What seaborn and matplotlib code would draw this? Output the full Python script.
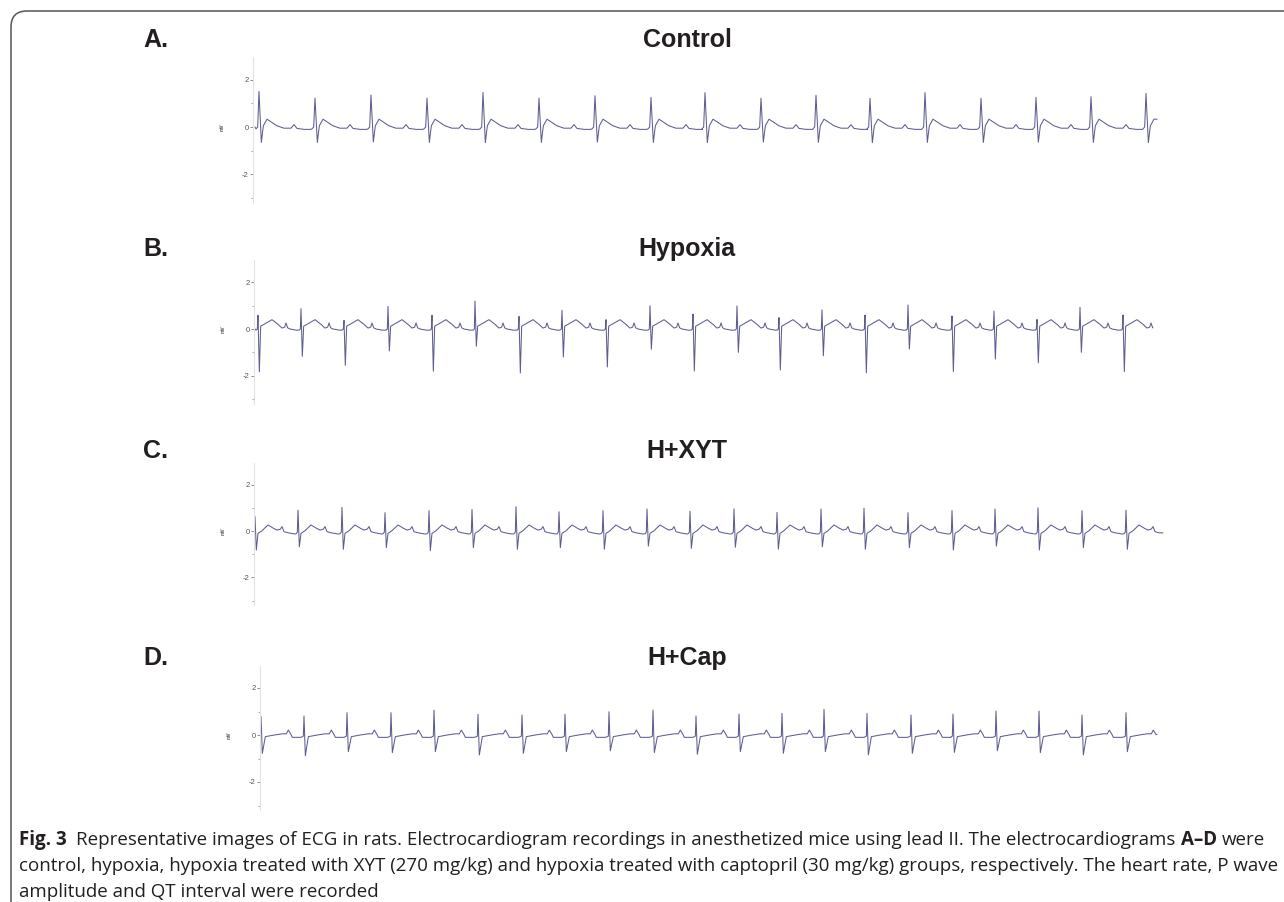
import numpy as np
import seaborn as sns
import matplotlib.pyplot as plt
from matplotlib.path import Path
from matplotlib.patches import PathPatch
from matplotlib import font_manager

# ---- data (time in ms, amplitude in mV) ----
ctrl_r_t = [18, 186, 354, 522, 690, 858, 1026, 1194, 1356, 1524, 1689, 1851,
            2016, 2184, 2349, 2514, 2679]
ctrl_r_amp = [1.50, 1.22, 1.35, 1.22, 1.46, 1.22, 1.32, 1.25, 1.45, 1.21, 1.34,
              1.21, 1.45, 1.21, 1.25, 1.28, 1.42]
ctrl_s_amp = [-0.65, -0.65, -0.63, -0.65, -0.66, -0.65, -0.64, -0.65, -0.66,
              -0.64, -0.65, -0.66, -0.65, -0.65, -0.64, -0.65, -0.66]
ctrl_tpl_t = [-9, -4, 0, 7, 13, 24, 36, 54, 75, 96, 105, 114, 135, 155]
ctrl_tpl_v = [-0.08, 0.0, "R", "S", 0.05, 0.33, 0.22, 0.05, -0.05, -0.05, 0.10,
              -0.06, -0.10, -0.10]
ctrl_span = (6, 2712)

hyp_r_t = [12, 141, 270, 402, 534, 663, 795, 924, 1056, 1188, 1317, 1449, 1575,
           1704, 1833, 1962, 2094, 2220, 2349, 2478, 2607]
hyp_r_amp = [0.59, 0.87, 0.37, 0.97, 0.59, 1.20, 0.54, 0.80, 0.40, 1.00, 0.64,
             0.99, 0.49, 0.82, 0.60, 1.03, 0.56, 0.77, 0.41, 0.93, 0.60]
hyp_s_amp = [-1.84, -1.17, -1.56, -0.94, -1.81, -0.74, -1.89, -1.20, -1.63,
             -0.87, -1.80, -1.00, -1.76, -1.15, -1.88, -0.86, -1.83, -1.29,
             -1.45, -1.00, -1.83]
hyp_tpl_t = [-6, -2, 0, 4, 8, 18, 42, 60, 72, 80, 84, 89, 96, 115]
hyp_tpl_v = [-0.05, 0.0, "R", "S", 0.12, 0.20, 0.40, 0.20, 0.04, 0.08, 0.26,
             0.05, 0.0, -0.05]
hyp_span = (3, 2697)

xyt_r_t = [3, 132, 264, 393, 525, 654, 786, 915, 1047, 1179, 1308, 1440, 1569,
           1701, 1830, 1962, 2094, 2223, 2352, 2484, 2616]
xyt_r_amp = [0.62, 0.90, 1.02, 0.79, 0.88, 0.93, 1.05, 0.83, 0.88, 0.95, 0.85,
             0.95, 0.80, 0.95, 0.98, 0.79, 0.88, 0.95, 1.00, 0.88, 0.90]
xyt_s_amp = [-0.82, -0.68, -0.79, -0.72, -0.85, -0.72, -0.79, -0.72, -0.79,
             -0.65, -0.75, -0.70, -0.78, -0.68, -0.79, -0.72, -0.82, -0.65,
             -0.82, -0.72, -0.79]
xyt_tpl_t = [-6, -2, 0, 4, 9, 20, 39, 55, 66, 76, 81, 87, 100, 120]
xyt_tpl_v = [-0.12, -0.05, "R", "S", -0.10, 0.0, 0.26, 0.12, 0.04, 0.08, 0.19,
             -0.03, -0.08, -0.13]
xyt_span = (0, 2727)

cap_r_t = [3, 132, 261, 393, 522, 654, 786, 915, 1047, 1179, 1308, 1437, 1566,
           1692, 1821, 1953, 2079, 2208, 2337, 2466, 2598]
cap_r_amp = [0.78, 0.81, 0.95, 0.95, 1.06, 0.88, 0.85, 0.88, 0.99, 1.06, 0.81,
             0.89, 0.92, 1.09, 0.92, 0.85, 0.89, 1.02, 1.02, 0.85, 0.95]
cap_s_amp = [-0.78, -0.88, -0.71, -0.75, -0.71, -0.85, -0.78, -0.71, -0.67,
             -0.75, -0.82, -0.71, -0.78, -0.71, -0.85, -0.78, -0.74, -0.67,
             -0.75, -0.85, -0.71]
cap_tpl_t = [-6, -2, 0, 4, 13, 40, 63, 76, 82, 90, 94, 120]
cap_tpl_v = [-0.08, -0.05, "R", "S", -0.07, 0.0, 0.05, 0.05, 0.21, 0.02, -0.10,
             -0.10]
cap_span = (0, 2691)

titles = ["Control", "Hypoxia", "H+XYT", "H+Cap"]
tags = ["A", "B", "C", "D"]

caption_l1 = ("Representative images of ECG in rats. Electrocardiogram recordings in "
              "anesthetized mice using lead II. The electrocardiograms")
caption_l2 = ("control, hypoxia, hypoxia treated with XYT (270 mg/kg) and hypoxia treated "
              "with captopril (30 mg/kg) groups, respectively. The heart rate, P wave")
caption_l3 = "amplitude and QT interval were recorded"


def build_trace(r_t, r_amp, s_amp, tpl_t, tpl_v, span):
    xs, ys = [span[0]], [0.0]
    for t, r, s in zip(r_t, r_amp, s_amp):
        for dt, v in zip(tpl_t, tpl_v):
            val = r if v == "R" else s if v == "S" else v
            if span[0] < t + dt < span[1]:
                xs.append(t + dt)
                ys.append(val)
    xs.append(span[1])
    ys.append(ys[-1])
    return np.array(xs, float), np.array(ys, float)


sns.set_style("white")
plt.rcParams["font.family"] = ["Liberation Sans", "DejaVu Sans"]
plt.rcParams["axes.unicode_minus"] = False

W, H = 1284, 902
fig = plt.figure(figsize=(W / 100, H / 100), dpi=100)


def fx(px):
    return px / W


def fy(py):
    return 1 - py / H


traces = [
    build_trace(ctrl_r_t, ctrl_r_amp, ctrl_s_amp, ctrl_tpl_t, ctrl_tpl_v, ctrl_span),
    build_trace(hyp_r_t, hyp_r_amp, hyp_s_amp, hyp_tpl_t, hyp_tpl_v, hyp_span),
    build_trace(xyt_r_t, xyt_r_amp, xyt_s_amp, xyt_tpl_t, xyt_tpl_v, xyt_span),
    build_trace(cap_r_t, cap_r_amp, cap_s_amp, cap_tpl_t, cap_tpl_v, cap_span),
]

# axes geometry in pixels: spine x, zero line y, px per mV, title baseline
geom = [(253, 127, 23.7, 47), (254, 329, 23.3, 256), (254, 531, 23.2, 458),
        (260, 735, 23.5, 665)]
ymin, ymax = -3.2, 2.95
trace_col = "#5d5d90"

for (xs, ys), (left, zero, unit, base), title, tag in zip(traces, geom, titles, tags):
    top = zero - ymax * unit
    bottom = zero - ymin * unit
    ax = fig.add_axes([fx(left), fy(bottom), 920 / W, (bottom - top) / H])
    sns.lineplot(x=xs, y=ys, ax=ax, color=trace_col, linewidth=0.75,
                 sort=False, estimator=None)
    ax.set_xlim(0, 2760)
    ax.set_ylim(ymin, ymax)
    for side in ["top", "right", "bottom"]:
        ax.spines[side].set_visible(False)
    ax.spines["left"].set_color("#e2e2e2")
    ax.spines["left"].set_linewidth(0.8)
    ax.set_xticks([])
    ax.set_yticks([-2, 0, 2])
    ax.set_yticks([-3, -1, 1], minor=True)
    ax.tick_params(axis="y", which="major", length=2.5, width=0.6, color="#777777",
                   labelsize=5.5, labelcolor="#555555", pad=0.5, left=True)
    ax.tick_params(axis="y", which="minor", length=1.5, width=0.6, color="#999999",
                   left=True)
    ax.set_ylabel("mV", fontsize=3.5, color="#555555", fontweight="bold")
    ax.yaxis.set_label_coords(-28 / 920, (0 - ymin) / (ymax - ymin))

    fig.text(fx(687), fy(base), title, fontsize=18, fontweight="bold",
             color="#231f20", ha="center", va="baseline")
    fig.text(fx(143), fy(base), tag + ".", fontsize=18, fontweight="bold",
             color="#231f20", ha="left", va="baseline")

# frame round the figure: rounded top-left corner, open to the right and below
r = 16
verts = [(W, 11), (11 + r, 11), (11, 11), (11, 11 + r), (11, H)]
codes = [Path.MOVETO, Path.LINETO, Path.CURVE3, Path.CURVE3, Path.LINETO]
frame = Path([(fx(x), fy(y)) for x, y in verts], codes)
fig.patches.append(PathPatch(frame, transform=fig.transFigure, fill=False,
                             edgecolor="#555555", linewidth=1.1))

# caption, pieces placed one after another
avail = {f.name for f in font_manager.fontManager.ttflist}
cap_family = "Liberation Sans Narrow" if "Liberation Sans Narrow" in avail else "Open Sans"
renderer = fig.canvas.get_renderer()


def width(s, size, weight="normal"):
    t = fig.text(0, 0, s, fontsize=size, fontweight=weight, family=cap_family)
    w = t.get_window_extent(renderer).width
    t.remove()
    return w


pieces1 = [("Fig. 3", "bold", 2), (caption_l1, "normal", 1), ("A–D", "bold", 1),
           ("were", "normal", 0)]
size = 12
gap = width("x x", size) - width("xx", size)
total = sum(width(s, size, wt) + n * gap for s, wt, n in pieces1)
size = size * (1262 - 19) / total
gap = width("x x", size) - width("xx", size)

x = 19
for s, wt, n in pieces1:
    t = fig.text(fx(x), fy(845), s, fontsize=size, fontweight=wt, family=cap_family,
                 color="#231f20", va="baseline")
    x = t.get_window_extent(renderer).x1 + n * gap
for line, yb in [(caption_l2, 871), (caption_l3, 897)]:
    fig.text(fx(19), fy(yb), line, fontsize=size, family=cap_family,
             color="#231f20", va="baseline")

fig.savefig("out.png", dpi=100)
